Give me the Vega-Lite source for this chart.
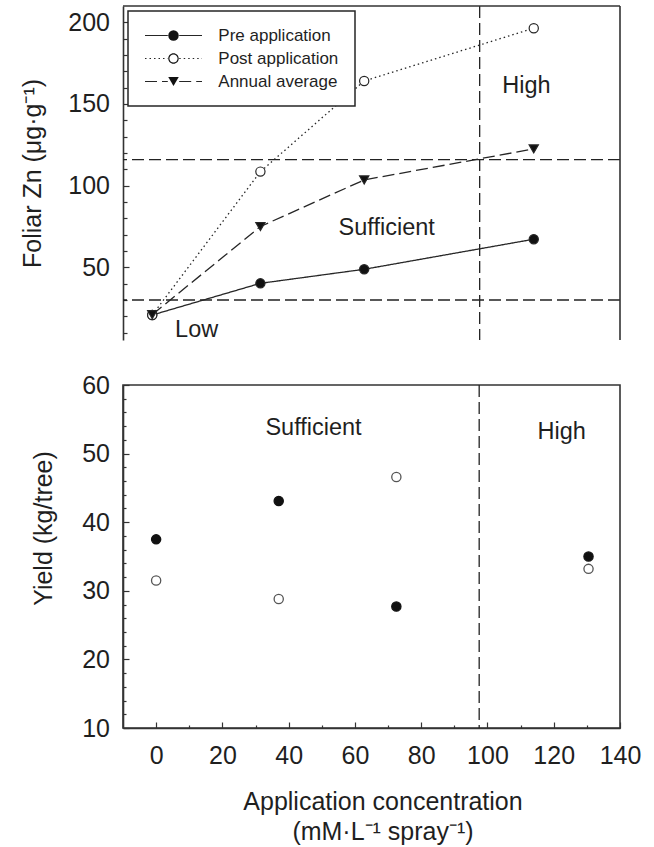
{
  "$schema": "https://vega.github.io/schema/vega-lite/v6.json",
  "background": "white",
  "padding": {"left": 20, "top": 5, "right": 5, "bottom": 5},
  "bounds": "flush",
  "spacing": 45,
  "config": {
    "font": "Liberation Sans",
    "view": {"stroke": null},
    "axis": {
      "grid": false,
      "domainColor": "#333333",
      "domainWidth": 1.6,
      "tickColor": "#333333",
      "tickWidth": 1.2,
      "labelFont": "Liberation Sans",
      "labelFontSize": 25,
      "labelColor": "#1f1f1f",
      "labelOverlap": false,
      "labelFlush": false,
      "titleFont": "Liberation Sans",
      "titleFontSize": 25,
      "titleFontWeight": "normal",
      "titleColor": "#1f1f1f"
    },
    "legend": {
      "labelFont": "Liberation Sans",
      "labelFontSize": 17,
      "labelColor": "#1f1f1f",
      "rowPadding": 5,
      "padding": 16,
      "strokeWidth": 1.5
    },
    "text": {"font": "Liberation Sans", "fontSize": 23.5, "color": "#1f1f1f"}
  },
  "datasets": {
    "foliar": [
      {"series": "Pre application", "conc": 0, "zn": 20.8},
      {"series": "Pre application", "conc": 37, "zn": 40.2},
      {"series": "Pre application", "conc": 72.5, "zn": 48.8},
      {"series": "Pre application", "conc": 130.5, "zn": 67.2},
      {"series": "Post application", "conc": 0, "zn": 20.8},
      {"series": "Post application", "conc": 37, "zn": 108.6},
      {"series": "Post application", "conc": 72.5, "zn": 164.1},
      {"series": "Post application", "conc": 130.5, "zn": 196.4},
      {"series": "Annual average", "conc": 0, "zn": 21},
      {"series": "Annual average", "conc": 37, "zn": 75},
      {"series": "Annual average", "conc": 72.5, "zn": 103.5},
      {"series": "Annual average", "conc": 130.5, "zn": 122.5}
    ],
    "zn_limits": [{"zn": 30}, {"zn": 116}],
    "zn_split": [{"conc": 112}],
    "zn_top_edge": [{"zn": 210}],
    "zn_right_edge": [{"conc": 160}],
    "foliar_notes": [
      {"note": "High", "conc": 128, "zn": 161},
      {"note": "Sufficient", "conc": 80.2, "zn": 74.3},
      {"note": "Low", "conc": 15.2, "zn": 11.6}
    ],
    "yield": [
      {"series": "Pre application", "conc": 0, "yield": 37.5},
      {"series": "Pre application", "conc": 37, "yield": 43.1},
      {"series": "Pre application", "conc": 72.5, "yield": 27.7},
      {"series": "Pre application", "conc": 130.5, "yield": 35.0},
      {"series": "Post application", "conc": 0, "yield": 31.5},
      {"series": "Post application", "conc": 37, "yield": 28.8},
      {"series": "Post application", "conc": 72.5, "yield": 46.6},
      {"series": "Post application", "conc": 130.5, "yield": 33.2}
    ],
    "yield_split": [{"conc": 97.5}],
    "yield_notes": [
      {"note": "Sufficient", "conc": 47.5, "yield": 53.7},
      {"note": "High", "conc": 122.4, "yield": 53.2}
    ]
  },
  "vconcat": [
    {
      "width": 497,
      "height": 334,
      "view": {"stroke": null},
      "resolve": {
        "scale": {"shape": "independent"},
        "axis": {"y": "independent"},
        "legend": {"strokeDash": "independent", "shape": "independent", "fill": "independent"}
      },
      "layer": [
        {
          "data": {"name": "zn_limits"},
          "mark": {"type": "rule", "color": "#222222", "strokeWidth": 1.3, "strokeDash": [12, 5]},
          "encoding": {
            "y": {"field": "zn", "type": "quantitative", "scale": {"domain": [5.5, 210], "nice": false, "zero": false},
              "axis": {"orient": "left", "title": "Foliar Zn (μg·g⁻¹)", "values": [50, 100, 150, 200],
                "tickSize": -6, "labelPadding": 19.5, "titlePadding": 22}}
          }
        },
        {
          "data": {"name": "zn_split"},
          "mark": {"type": "rule", "color": "#222222", "strokeWidth": 1.3, "strokeDash": [12, 5]},
          "encoding": {
            "x": {"field": "conc", "type": "quantitative", "scale": {"domain": [-10, 160], "nice": false, "zero": false}, "axis": null}
          }
        },
        {
          "data": {"name": "zn_top_edge"},
          "mark": {"type": "rule", "color": "#333333", "strokeWidth": 1.6},
          "encoding": {
            "y": {"field": "zn", "type": "quantitative", "scale": {"domain": [5.5, 210], "nice": false, "zero": false},
              "axis": {"orient": "left", "title": null, "labels": false, "domain": false,
                "values": [10, 20, 30, 40, 60, 70, 80, 90, 110, 120, 130, 140, 160, 170, 180, 190],
                "tickSize": -4}}
          }
        },
        {
          "data": {"name": "zn_right_edge"},
          "mark": {"type": "rule", "color": "#333333", "strokeWidth": 1.6},
          "encoding": {
            "x": {"field": "conc", "type": "quantitative", "scale": {"domain": [-10, 160], "nice": false, "zero": false}, "axis": null}
          }
        },
        {
          "data": {"name": "foliar"},
          "mark": {"type": "line", "color": "#262626", "strokeWidth": 1.3},
          "encoding": {
            "x": {"field": "conc", "type": "quantitative", "scale": {"domain": [-10, 160], "nice": false, "zero": false}, "axis": null},
            "y": {"field": "zn", "type": "quantitative", "scale": {"domain": [5.5, 210], "nice": false, "zero": false}, "axis": null},
            "strokeDash": {
              "field": "series", "type": "nominal",
              "scale": {"domain": ["Pre application", "Post application", "Annual average"], "range": [[1, 0], [1.5, 3], [12, 5]]},
              "legend": {
                "title": null, "orient": "none", "legendX": 5, "legendY": 5, "padding": 16,
                "strokeColor": "#262626", "fillColor": "white",
                "symbolType": "M-1,0H-0.2M0.2,0H1", "symbolSize": 3249,
                "symbolStrokeColor": "#262626", "symbolStrokeWidth": 1.2,
                "clipHeight": 17, "labelOffset": 15.3, "rowPadding": 5, "labelFontSize": 17
              }
            }
          }
        },
        {
          "data": {"name": "foliar"},
          "mark": {"type": "point", "size": 85, "stroke": "#262626", "strokeWidth": 1.2, "opacity": 1},
          "encoding": {
            "x": {"field": "conc", "type": "quantitative", "scale": {"domain": [-10, 160], "nice": false, "zero": false}, "axis": null},
            "y": {"field": "zn", "type": "quantitative", "scale": {"domain": [5.5, 210], "nice": false, "zero": false}, "axis": null},
            "shape": {
              "field": "series", "type": "nominal",
              "scale": {"domain": ["Pre application", "Post application", "Annual average"], "range": ["circle", "circle", "triangle-down"]},
              "legend": null
            },
            "fill": {
              "field": "series", "type": "nominal",
              "scale": {"domain": ["Pre application", "Post application", "Annual average"], "range": ["#111111", "#ffffff", "#111111"]},
              "legend": null
            }
          }
        },
        {
          "data": {"name": "foliar"},
          "mark": {"type": "point", "filled": true, "color": "#111111", "opacity": 0},
          "encoding": {
            "x": {"field": "conc", "type": "quantitative", "scale": {"domain": [-10, 160], "nice": false, "zero": false}, "axis": null},
            "y": {"field": "zn", "type": "quantitative", "scale": {"domain": [5.5, 210], "nice": false, "zero": false}, "axis": null},
            "shape": {
              "field": "series", "type": "nominal",
              "scale": {"domain": ["Pre application", "Post application", "Annual average"],
                "range": ["circle", "M-1,0A1,1 0 1,0 1,0A1,1 0 1,0 -1,0ZM-0.78,0A0.78,0.78 0 1,1 0.78,0A0.78,0.78 0 1,1 -0.78,0Z", "triangle-down"]},
              "legend": {
                "title": null, "orient": "none", "legendX": 5, "legendY": 5, "padding": 16,
                "symbolSize": 110, "symbolStrokeWidth": 0, "symbolOpacity": 1, "symbolFillColor": "#111111",
                "symbolOffset": 21, "labelExpr": "''", "rowPadding": 5, "labelFontSize": 17
              }
            }
          }
        },
        {
          "data": {"name": "foliar_notes"},
          "mark": {"type": "text", "align": "center", "baseline": "middle"},
          "encoding": {
            "x": {"field": "conc", "type": "quantitative", "scale": {"domain": [-10, 160], "nice": false, "zero": false}, "axis": null},
            "y": {"field": "zn", "type": "quantitative", "scale": {"domain": [5.5, 210], "nice": false, "zero": false}, "axis": null},
            "text": {"field": "note", "type": "nominal"}
          }
        }
      ]
    },
    {
      "width": 497,
      "height": 343,
      "view": {"stroke": "#333333", "strokeWidth": 1.6},
      "resolve": {"axis": {"x": "independent", "y": "independent"}},
      "layer": [
        {
          "data": {"name": "yield_split"},
          "mark": {"type": "rule", "color": "#222222", "strokeWidth": 1.3, "strokeDash": [12, 5]},
          "encoding": {
            "x": {"field": "conc", "type": "quantitative", "scale": {"domain": [-10, 140], "nice": false, "zero": false},
              "axis": {"orient": "bottom", "title": ["Application concentration", "(mM·L⁻¹ spray⁻¹)"],
                "values": [0, 20, 40, 60, 80, 100, 120, 140],
                "tickSize": -6, "labelPadding": 21, "titlePadding": 21, "titleX": 259.5, "titleLineHeight": 30}}
          }
        },
        {
          "data": {"name": "yield"},
          "mark": {"type": "point", "shape": "circle", "size": 85, "strokeWidth": 1.3, "opacity": 1},
          "encoding": {
            "x": {"field": "conc", "type": "quantitative", "scale": {"domain": [-10, 140], "nice": false, "zero": false},
              "axis": {"orient": "bottom", "title": null, "labels": false, "domain": false,
                "values": [10, 30, 50, 70, 90, 110, 130], "tickSize": -3}},
            "y": {"field": "yield", "type": "quantitative", "scale": {"domain": [10, 60], "nice": false, "zero": false},
              "axis": {"orient": "left", "title": "Yield (kg/tree)", "values": [10, 20, 30, 40, 50, 60],
                "tickSize": -6, "labelPadding": 19.5, "titlePadding": 25, "titleY": 143}},
            "fill": {"field": "series", "type": "nominal",
              "scale": {"domain": ["Pre application", "Post application"], "range": ["#111111", "#ffffff"]}, "legend": null},
            "stroke": {"field": "series", "type": "nominal",
              "scale": {"domain": ["Pre application", "Post application"], "range": ["#111111", "#555555"]}, "legend": null}
          }
        },
        {
          "data": {"name": "yield_notes"},
          "mark": {"type": "text", "align": "center", "baseline": "middle"},
          "encoding": {
            "x": {"field": "conc", "type": "quantitative", "scale": {"domain": [-10, 140], "nice": false, "zero": false}, "axis": null},
            "y": {"field": "yield", "type": "quantitative", "scale": {"domain": [10, 60], "nice": false, "zero": false},
              "axis": {"orient": "left", "title": null, "labels": false, "domain": false,
                "values": [12, 14, 16, 18, 22, 24, 26, 28, 32, 34, 36, 38, 42, 44, 46, 48, 52, 54, 56, 58], "tickSize": -3}},
            "text": {"field": "note", "type": "nominal"}
          }
        }
      ]
    }
  ]
}
